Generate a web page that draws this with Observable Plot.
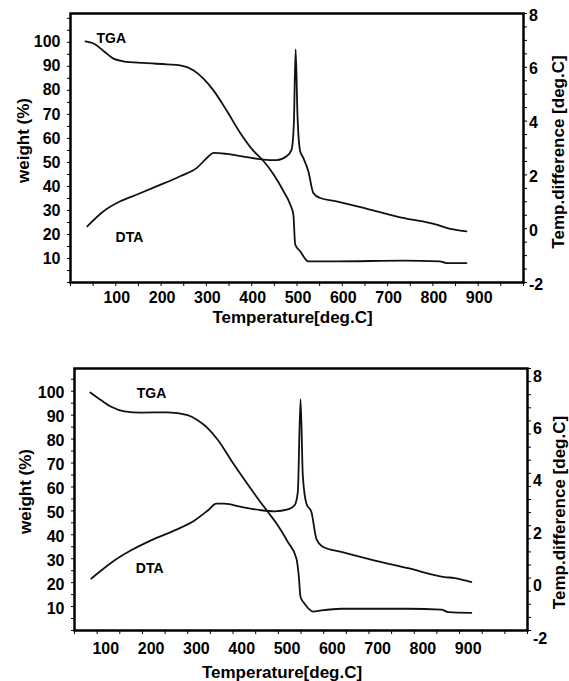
<!DOCTYPE html>
<html><head><meta charset="utf-8">
<script src="https://cdn.jsdelivr.net/npm/d3@7"></script>
<script src="https://cdn.jsdelivr.net/npm/@observablehq/plot@0.6"></script>
<style>
body{margin:0;background:#fff;}
svg{display:block;}
</style>
</head><body><div id="chart"></div>
<script>
// ---------- Panel 1 data ----------
const tga1T = [33,51,73,95,117,162,213,242,272,294,316,345,374,404,426,448,470,485,492,496,507,525,587,734,815,830,874];
const tga1W = [100.4,99.5,96.4,93.2,92.1,91.4,90.8,90.4,88.3,84.8,79.9,71.5,62.5,54.8,50.6,45.1,38.1,32.5,28.3,15.8,13.0,8.8,8.8,9.1,8.8,8.1,8.1];
const dta1T = [37,73,110,147,191,242,279,301,316,345,389,426,455,477,488,493,497,501,507,514,525,536,551,587,661,734,808,830,874];
const dta1D = [0.09,0.65,1.02,1.27,1.58,1.95,2.26,2.63,2.82,2.78,2.66,2.57,2.55,2.69,2.94,3.88,6.67,4.25,2.88,2.63,2.14,1.33,1.14,1.02,0.71,0.40,0.15,0.03,-0.10];

// ---------- Panel 2 data ----------
const tga2T = [35,59,81,110,147,206,250,272,295,317,346,376,405,427,449,471,490,495,499,508,527,545,589,736,810,825,876];
const tga2W = [99.5,96.2,93.5,91.6,91.1,91.2,90.0,87.9,84.4,79.5,71.1,62.8,55.1,49.5,43.9,37.0,30.0,23.0,14.0,11.2,7.9,8.4,9.1,9.1,8.7,7.7,7.4];
const dta2T = [37,59,88,125,169,221,265,295,313,331,368,412,442,471,486,493,499,504,512,523,534,549,589,663,736,817,839,876];
const dta2D = [-0.02,0.29,0.67,1.06,1.44,1.82,2.20,2.59,2.84,2.84,2.72,2.59,2.55,2.62,2.78,3.29,6.83,3.92,2.84,2.52,1.50,1.19,1.00,0.67,0.38,0.04,0.00,-0.15];

// ---------- Axis ticks & labels ----------
const xTickLabels = [100,200,300,400,500,600,700,800,900];
const weightTickLabels = [10,20,30,40,50,60,70,80,90,100];
const dtaTickLabels = [-2,0,2,4,6,8];
const seriesNames = ["TGA","DTA"];
const xTitle = "Temperature[deg.C]";
const leftTitle = "weight (%)";
const rightTitle = "Temp.difference [deg.C]";

const FONT = "'Liberation Sans', Arial, Helvetica, sans-serif";

function panel(cfg) {
  const [yLo, yHi] = cfg.yDomain;
  const [dLo, dHi] = [-2, 8];
  const toLeft = d => (d - dLo) / (dHi - dLo) * (yHi - yLo) + yLo;
  const fromLeft = v => (v - yLo) / (yHi - yLo) * (dHi - dLo) + dLo;
  const tga = cfg.tgaT.map((t, i) => ({t, w: cfg.tgaW[i]}));
  const dta = cfg.dtaT.map((t, i) => ({t, w: toLeft(cfg.dtaD[i])}));
  const notes = [
    {t: cfg.tgaLabel[0], w: cfg.tgaLabel[1], s: seriesNames[0]},
    {t: cfg.dtaLabel[0], w: toLeft(cfg.dtaLabel[1]), s: seriesNames[1]}
  ];
  const titleStyle = {fontSize: 17, fontWeight: "bold", textAnchor: "middle", lineAnchor: "middle"};
  return Plot.plot({
    width: 569,
    height: cfg.height,
    marginLeft: cfg.ml, marginRight: cfg.mr, marginTop: cfg.mt, marginBottom: cfg.mb,
    style: {fontFamily: FONT, fontSize: "16px", fontWeight: "bold", background: "#fff", color: "#000"},
    x: {domain: [0, 1000], label: null},
    y: {domain: cfg.yDomain, label: null},
    marks: [
      // x axis: ticks every 50, labels at hundreds
      Plot.axisX({ticks: d3.range(0, 1001, 50), tickSize: 4, tickFormat: () => "", label: null}),
      Plot.axisX({ticks: xTickLabels, tickSize: 0, tickPadding: cfg.xPad, dx: cfg.xDx, tickFormat: d => String(d), label: null, fontSize: 16, fontWeight: "bold"}),
      // left axis
      Plot.axisY({ticks: d3.range(0, yHi + 0.001, 5), tickSize: 3, tickFormat: () => "", label: null}),
      Plot.axisY({ticks: weightTickLabels, tickSize: 0, tickPadding: 10, dy: cfg.leftDy, tickFormat: d => String(d), label: null, fontSize: 16, fontWeight: "bold"}),
      // right axis (temperature difference), mapped onto the left scale
      Plot.axisY({anchor: "right", ticks: d3.range(-2, 8.001, 0.5).map(toLeft), tickSize: 3, tickFormat: () => "", label: null}),
      Plot.axisY({anchor: "right", ticks: dtaTickLabels.map(toLeft), tickSize: 0, tickPadding: 5.5, dy: cfg.rightDy,
        tickFormat: v => String(Math.round(fromLeft(v))), label: null, fontSize: 16, fontWeight: "bold"}),
      Plot.frame({stroke: "#000", strokeWidth: 2.5}),
      Plot.line(tga, {x: "t", y: "w", stroke: "#111", strokeWidth: 1.8, curve: "monotone-x"}),
      Plot.line(dta, {x: "t", y: "w", stroke: "#111", strokeWidth: 1.8, curve: "monotone-x"}),
      Plot.text(notes, {x: "t", y: "w", text: "s", fontSize: 14, fontWeight: "bold", fill: "#000"}),
      // axis titles
      Plot.text([xTitle], {frameAnchor: "bottom", dx: cfg.xtDx, dy: cfg.xtDy, ...titleStyle}),
      Plot.text([leftTitle], {frameAnchor: "left", rotate: -90, dx: cfg.ltDx, dy: cfg.ltDy, ...titleStyle}),
      Plot.text([rightTitle], {frameAnchor: "right", rotate: -90, dx: cfg.rtDx, dy: cfg.rtDy, ...titleStyle})
    ]
  });
}

const root = document.getElementById("chart");
root.append(panel({
  height: 340, ml: 70, mr: 46, mt: 13, mb: 58,
  yDomain: [0, 112],
  tgaT: tga1T, tgaW: tga1W, dtaT: dta1T, dtaD: dta1D,
  tgaLabel: [90, 101.7], dtaLabel: [130, -0.33],
  xPad: 9.6, xDx: 1, leftDy: 0, rightDy: 2,
  xtDx: -4.5, xtDy: 35, ltDx: -47, ltDy: -7.5, rtDx: 35.5, rtDy: 4
}));
root.append(panel({
  height: 341, ml: 74, mr: 42, mt: 28, mb: 51,
  yDomain: [0, 109.5],
  tgaT: tga2T, tgaW: tga2W, dtaT: dta2T, dtaD: dta2D,
  tgaLabel: [170, 98.9], dtaLabel: [166, 0.38],
  xPad: 11.8, xDx: -14, leftDy: 2, rightDy: 8,
  xtDx: -19, xtDy: 42, ltDx: -48.5, ltDy: -8, rtDx: 32, rtDy: 13
}));
</script>
</body></html>
